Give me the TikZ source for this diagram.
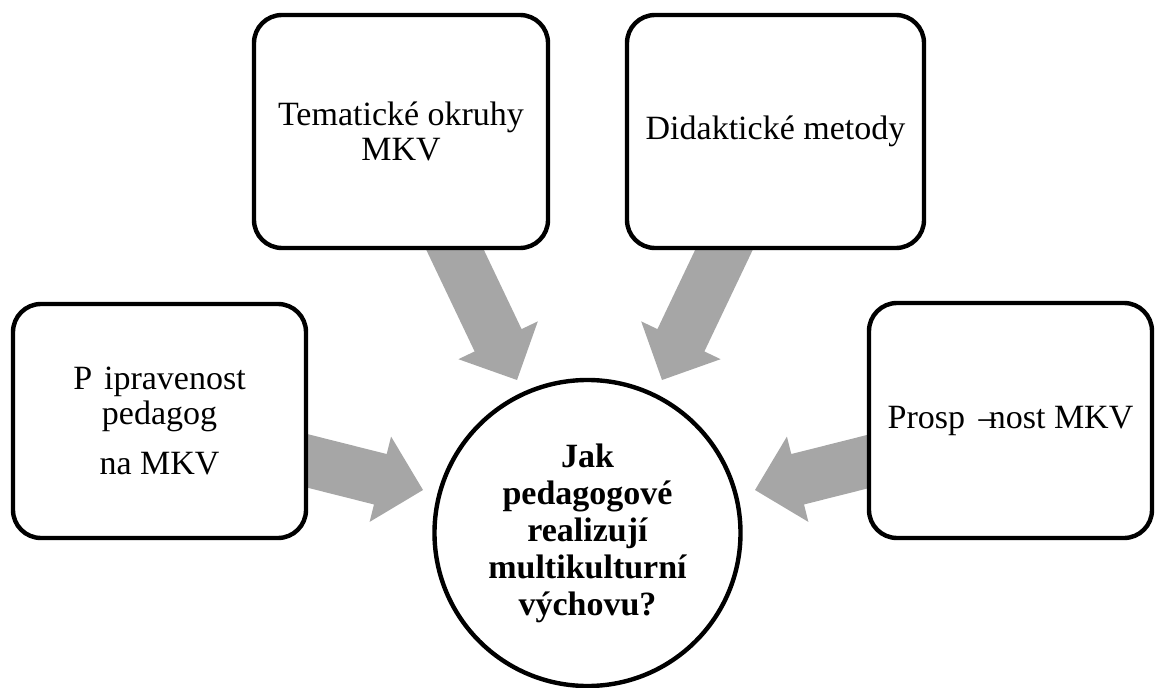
\documentclass[tikz,border=0pt]{standalone}
\usepackage{fontspec}
\setmainfont{Liberation Serif}
\usetikzlibrary{calc}
\definecolor{arrowgray}{RGB}{166,166,166}
\tikzset{
  box/.style={draw=black, line width=3.3pt, rounded corners=21pt, fill=white,
    inner sep=0pt, align=center, font=\fontsize{25.5pt}{26.3pt}\selectfont},
  hub/.style={circle, draw=black, line width=3.3pt, fill=white, inner sep=0pt,
    minimum size=229.5pt, align=center, font=\fontsize{25.5pt}{27.75pt}\selectfont\bfseries},
  blockarrow/.style={fill=arrowgray, draw=none}
}
\newcommand{\blockarr}[3]{%
  \coordinate (#3b) at ($(#2)!33pt!(#1)$);
  \fill[blockarrow] ($(#1)!19.5pt!90:(#2)$) -- ($(#3b)!19.5pt!90:(#2)$)
    -- ($(#3b)!33pt!90:(#2)$) -- (#2) -- ($(#3b)!33pt!-90:(#2)$)
    -- ($(#3b)!19.5pt!-90:(#2)$) -- ($(#1)!19.5pt!-90:(#2)$) -- cycle;}
\begin{document}
\begin{tikzpicture}[x=0.75pt,y=-0.75pt]
\useasboundingbox (0,0) rectangle (1157,688);
% arrow end points
\coordinate (tlS) at (445.6,230);
\coordinate (tlT) at (517,380);
\coordinate (trS) at (733.4,230);
\coordinate (trT) at (662,380);
\coordinate (lS) at (290,456.5);
\coordinate (lT) at (423,490);
\coordinate (rS) at (888,456.5);
\coordinate (rT) at (755,490);
\blockarr{tlS}{tlT}{tla}
\blockarr{trS}{trT}{tra}
\blockarr{lS}{lT}{la}
\blockarr{rS}{rT}{ra}
% boxes
\node[box, minimum width=220.5pt, minimum height=174.75pt] (tl) at (401,131.5)
  {Tematické okruhy\\MKV};
\node[box, minimum width=222.75pt, minimum height=174.75pt] (tr) at (775.5,131.5)
  {Didaktické metody};
\node[box, minimum width=219.75pt, minimum height=175.5pt] (l) at (159.5,421)
  {P\hspace{0.35em}ipravenost\\pedagog\hspace*{0.65em}\\[11pt]na MKV};
\node[box, minimum width=212.25pt, minimum height=176.25pt] (r) at (1010.5,420.5)
  {Prosp\hspace{0.4em}\makebox[0.3em][l]{–}nost MKV};
\node[hub] (hub) at (587.5,533)
  {Jak\\pedagogové\\realizují\\multikulturní\\výchovu?};
\end{tikzpicture}
\end{document}
